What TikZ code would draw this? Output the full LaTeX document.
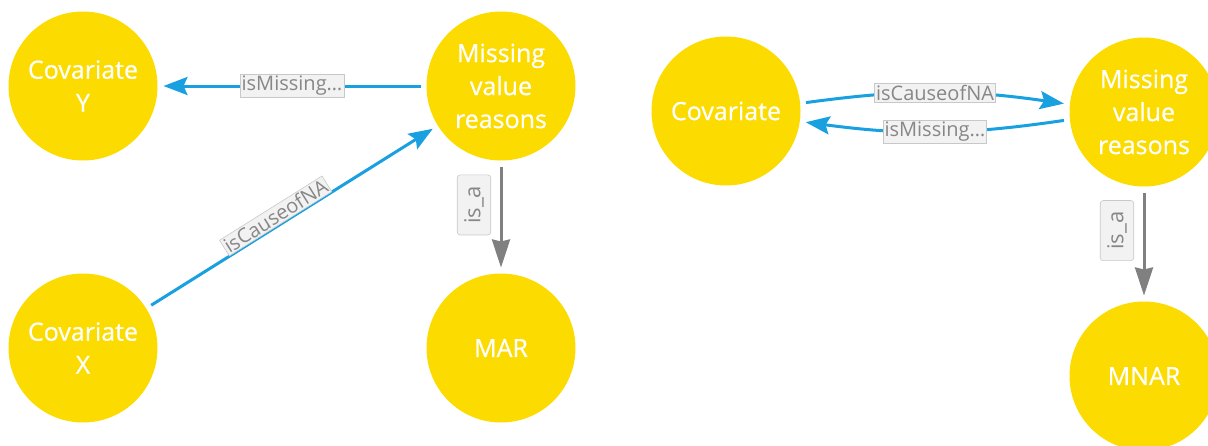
\documentclass[tikz,border=0pt]{standalone}
\usepackage{fontspec}
\setmainfont{Open Sans}
\newfontfamily\nodefont{Open Sans}[FakeBold=0.6]
\usetikzlibrary{arrows.meta}
\definecolor{nodeY}{RGB}{252,220,0}
\definecolor{edgeB}{RGB}{24,160,225}
\definecolor{edgeG}{RGB}{128,128,128}
\definecolor{lblbg}{RGB}{242,242,242}
\definecolor{lblbd}{RGB}{200,200,200}
\definecolor{lbltx}{RGB}{135,135,135}
\begin{document}
\begin{tikzpicture}[x=1pt,y=-1pt,
  entity/.style={circle, fill=nodeY, minimum size=149pt, inner sep=0pt, outer sep=6pt,
    text=white, align=center, font=\nodefont\fontsize{25}{33}\selectfont},
  rel/.style={draw=edgeB, line width=3pt, -{Stealth[length=24pt,width=18pt,inset=4pt]}},
  isarel/.style={draw=edgeG, line width=3pt, -{Stealth[length=28pt,width=18pt,inset=2pt]}},
  lbl/.style={fill=lblbg, draw=lblbd, line width=0.6pt, text=lbltx,
    font=\fontsize{20}{20}\selectfont, inner xsep=1.5pt, inner ysep=1.5pt},
  isalbl/.style={fill=lblbg, draw=lblbd, line width=0.6pt, text=lbltx, rounded corners=3pt,
    font=\fontsize{22}{22}\selectfont, inner xsep=11pt, inner ysep=7pt, rotate=90}]
\useasboundingbox (0,0) rectangle (1208,445);
\node[entity] (covY) at (83,86) {Covariate\\Y};
\node[entity] (mvrL) at (501,86) {Missing\\value\\reasons};
\node[entity] (covX) at (83,348) {Covariate\\X};
\node[entity] (mar) at (501,348) {MAR};
\node[entity] (cov) at (726,111) {Covariate};
\node[entity] (mvrR) at (1144,112) {Missing\\value\\reasons};
\node[entity] (mnar) at (1144,376) {MNAR};
\draw[rel] (mvrL) -- node[lbl] {isMissing…} (covY);
\draw[rel] (covX) -- node[lbl, sloped, pos=0.46, above=0pt] {isCauseofNA} (mvrL);
\draw[isarel] (mvrL) -- node[pos=0.38, xshift=-27pt, isalbl] {is\_a} (mar);
\draw[rel] (cov.6) to[bend left=8] node[lbl] {isCauseofNA} (mvrR.174);
\draw[rel] (mvrR.186) to[bend left=8] node[lbl] {isMissing…} (cov.-8);
\draw[isarel] (mvrR) -- node[pos=0.37, xshift=-27pt, isalbl] {is\_a} (mnar);
\end{tikzpicture}
\end{document}
